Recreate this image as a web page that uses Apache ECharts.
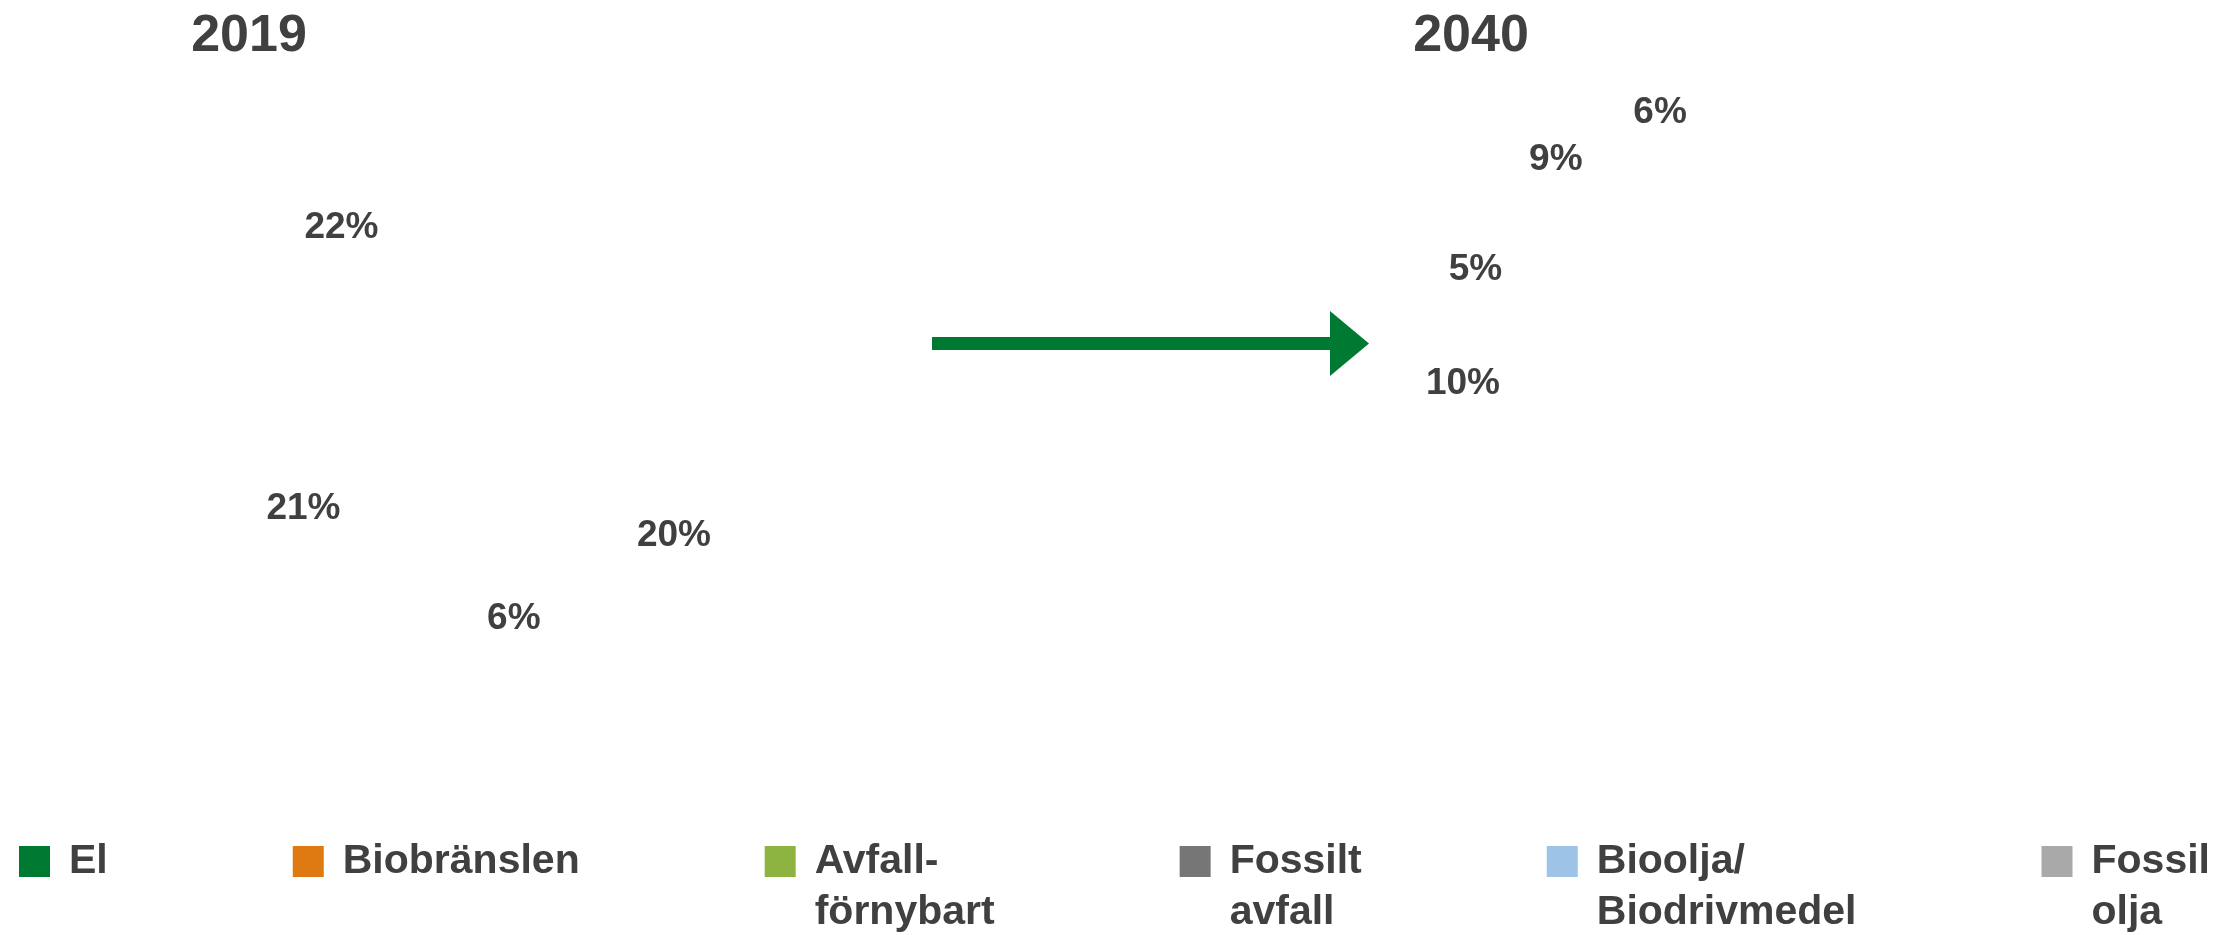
<!DOCTYPE html>
<html>
<head>
<meta charset="utf-8">
<script src="https://cdn.jsdelivr.net/npm/echarts@6/dist/echarts.min.js"></script>
<style>
html,body{margin:0;padding:0;background:#fff;}
#c{width:2229px;height:935px;}
</style>
</head>
<body>
<div id="c"></div>
<script>
// ---- data ----
const categories = ['El', 'Biobränslen', 'Avfall-förnybart', 'Fossilt avfall', 'Bioolja/Biodrivmedel', 'Fossil olja'];
const legendLines = ['El', 'Biobränslen', 'Avfall-\nförnybart', 'Fossilt\navfall', 'Bioolja/\nBiodrivmedel', 'Fossil\nolja'];
const colors = ['#007A33', '#DF7A12', '#8DB440', '#767676', '#9DC3E6', '#A9A9A9'];
const years = ['2019', '2040'];
const values2019 = [27, 20, 6, 4, 21, 22];
const values2040 = [68, 10, 5, 2, 9, 6];
// labels visible in the picture (white labels on dark slices are not visible)
const showLabel2019 = [false, true, true, false, true, true];
const showLabel2040 = [false, true, true, false, true, true];

const textColor = '#404040';
const font = 'Liberation Sans, Arial, sans-serif';

function pieData(values, show) {
  return categories.map((name, i) => ({
    name: name,
    value: values[i],
    itemStyle: { color: 'rgba(255,255,255,0)' },
    label: { show: show[i] }
  }));
}

const chart = echarts.init(document.getElementById('c'), null, { renderer: 'canvas' });

const pieBase = {
  type: 'pie',
  clockwise: true,
  avoidLabelOverlap: false,
  silent: true,
  labelLine: { show: false },
  emphasis: { disabled: true },
  label: {
    position: 'inside',
    formatter: '{c}%',
    color: textColor,
    fontFamily: font,
    fontWeight: 'bold',
    fontSize: 37
  }
};

chart.setOption({
  backgroundColor: '#ffffff',
  animation: false,
  title: [
    { text: years[0], left: 249, top: 11, textAlign: 'center', padding: 0,
      textStyle: { color: textColor, fontFamily: font, fontWeight: 'bold', fontSize: 52 } },
    { text: years[1], left: 1471, top: 11, textAlign: 'center', padding: 0,
      textStyle: { color: textColor, fontFamily: font, fontWeight: 'bold', fontSize: 52 } }
  ],
  legend: {
    orient: 'horizontal',
    left: 'center',
    top: 785,
    padding: 0,
    itemGap: 185,
    itemWidth: 31,
    itemHeight: 31,
    icon: 'rect',
    selectedMode: false,
    data: categories.map((n, i) => ({
      name: n,
      itemStyle: { color: colors[i], opacity: 1, borderWidth: 0 }
    })),
    formatter: function (name) {
      const t = legendLines[categories.indexOf(name)];
      return ' \n' + (t.indexOf('\n') >= 0 ? t : t + '\n ');
    },
    textStyle: {
      color: textColor,
      fontFamily: font,
      fontWeight: 'bold',
      fontSize: 41,
      lineHeight: 51,
      padding: [0, 0, 0, 14]
    }
  },
  graphic: [
    {
      type: 'group',
      silent: true,
      children: [
        { type: 'rect', shape: { x: 932, y: 337, width: 400, height: 13 }, style: { fill: '#007A33' } },
        { type: 'polygon', shape: { points: [[1330, 311], [1369, 343.5], [1330, 376]] }, style: { fill: '#007A33' } }
      ]
    }
  ],
  series: [
    Object.assign({}, pieBase, {
      name: years[0],
      center: [498, 392],
      radius: [0, 448],
      startAngle: 94,
      data: pieData(values2019, showLabel2019)
    }),
    Object.assign({}, pieBase, {
      name: years[1],
      center: [1706, 353],
      radius: [0, 484],
      startAngle: 90,
      data: pieData(values2040, showLabel2040)
    })
  ]
});
</script>
</body>
</html>
